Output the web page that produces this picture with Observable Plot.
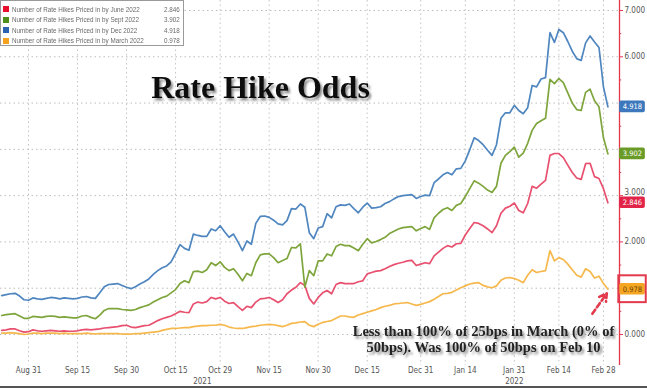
<!DOCTYPE html>
<html>
<head>
<meta charset="utf-8">
<script src="https://cdn.jsdelivr.net/npm/d3@7"></script>
<script src="https://cdn.jsdelivr.net/npm/@observablehq/plot@0.6"></script>
<style>
  html, body { margin: 0; padding: 0; background: #fff; }
  #wrap { position: relative; width: 647px; height: 388px; overflow: hidden; }
  #legend { position: absolute; left: 0; top: 0; width: 184px; height: 46px; background: #fff;
    border: 1px solid #9a9a9a; box-sizing: border-box;
    font-family: "Liberation Sans", Arial, sans-serif;
    font-size: 7.5px; color: #6a6a6a; }
  #legend .row { position: absolute; left: 2px; right: 3px; height: 9px; line-height: 9px; white-space: nowrap; }
  #legend .sw { display: inline-block; width: 6px; height: 6px; margin-right: 3px; vertical-align: -0.5px; }
  #legend .nm { display: inline-block; transform: scaleX(0.84); transform-origin: 0 50%; }
  #legend .val { position: absolute; right: 0; top: 0; transform: scaleX(0.84); transform-origin: 100% 50%; }
  #bottomline { position: absolute; left: 0; bottom: 0; width: 647px; height: 2px; background: #555; }
</style>
</head>
<body>
<div id="wrap"><div id="legend"></div><div id="bottomline"></div></div>
<script>
// ---------- data (weekday series, Aug 23 2021 – Mar 1 2022) ----------
const dates = [
  "2021-08-23","2021-08-24","2021-08-25","2021-08-26","2021-08-27","2021-08-30","2021-08-31","2021-09-01","2021-09-02","2021-09-03",
  "2021-09-06","2021-09-07","2021-09-08","2021-09-09","2021-09-10","2021-09-13","2021-09-14","2021-09-15","2021-09-16","2021-09-17",
  "2021-09-20","2021-09-21","2021-09-22","2021-09-23","2021-09-24","2021-09-27","2021-09-28","2021-09-29","2021-09-30","2021-10-01",
  "2021-10-04","2021-10-05","2021-10-06","2021-10-07","2021-10-08","2021-10-11","2021-10-12","2021-10-13","2021-10-14","2021-10-15",
  "2021-10-18","2021-10-19","2021-10-20","2021-10-21","2021-10-22","2021-10-25","2021-10-26","2021-10-27","2021-10-28","2021-10-29",
  "2021-11-01","2021-11-02","2021-11-03","2021-11-04","2021-11-05","2021-11-08","2021-11-09","2021-11-10","2021-11-11","2021-11-12",
  "2021-11-15","2021-11-16","2021-11-17","2021-11-18","2021-11-19","2021-11-22","2021-11-23","2021-11-24","2021-11-25","2021-11-26",
  "2021-11-29","2021-11-30","2021-12-01","2021-12-02","2021-12-03","2021-12-06","2021-12-07","2021-12-08","2021-12-09","2021-12-10",
  "2021-12-13","2021-12-14","2021-12-15","2021-12-16","2021-12-17","2021-12-20","2021-12-21","2021-12-22","2021-12-23","2021-12-24",
  "2021-12-27","2021-12-28","2021-12-29","2021-12-30","2021-12-31","2022-01-03","2022-01-04","2022-01-05","2022-01-06","2022-01-07",
  "2022-01-10","2022-01-11","2022-01-12","2022-01-13","2022-01-14","2022-01-17","2022-01-18","2022-01-19","2022-01-20","2022-01-21",
  "2022-01-24","2022-01-25","2022-01-26","2022-01-27","2022-01-28","2022-01-31","2022-02-01","2022-02-02","2022-02-03","2022-02-04",
  "2022-02-07","2022-02-08","2022-02-09","2022-02-10","2022-02-11","2022-02-14","2022-02-15","2022-02-16","2022-02-17","2022-02-18",
  "2022-02-21","2022-02-22","2022-02-23","2022-02-24","2022-02-25","2022-02-28","2022-03-01"
];
const dec2022 = [
  0.84,0.86,0.88,0.89,0.83,0.75,0.74,0.79,0.77,0.76,
  0.78,0.80,0.79,0.77,0.79,0.78,0.77,0.78,0.81,0.82,
  0.79,0.78,0.90,1.03,1.08,1.09,1.10,1.06,1.02,0.99,
  1.03,1.09,1.14,1.20,1.30,1.38,1.44,1.48,1.57,1.75,
  1.94,1.86,1.82,2.17,2.14,2.12,2.12,2.28,2.24,2.35,
  2.22,2.10,2.17,2.00,1.81,2.02,1.95,2.40,2.55,2.56,
  2.53,2.47,2.39,2.37,2.46,2.72,2.71,2.82,2.75,2.20,
  2.07,2.30,2.33,2.61,2.52,2.76,2.80,2.79,2.82,2.72,
  2.63,2.75,2.84,2.73,2.74,2.76,2.83,2.87,2.93,2.98,
  3.00,3.01,3.02,2.94,2.98,3.01,3.00,3.28,3.36,3.45,
  3.50,3.45,3.58,3.59,3.75,3.99,4.25,4.19,4.10,3.98,
  3.87,4.10,4.67,4.79,4.79,4.95,4.84,4.77,4.90,5.38,
  5.35,5.52,5.55,6.52,6.31,6.59,6.52,6.33,6.12,5.96,
  5.92,6.30,6.45,6.32,6.20,5.35,4.918
];
const sept2022 = [
  0.41,0.43,0.44,0.45,0.40,0.35,0.35,0.39,0.38,0.37,
  0.39,0.40,0.39,0.37,0.38,0.37,0.36,0.36,0.40,0.41,
  0.37,0.34,0.42,0.52,0.56,0.56,0.56,0.54,0.53,0.52,
  0.54,0.58,0.61,0.64,0.70,0.75,0.80,0.83,0.90,0.97,
  1.10,1.16,1.12,1.36,1.37,1.34,1.40,1.55,1.49,1.57,
  1.45,1.38,1.42,1.30,1.16,1.32,1.27,1.55,1.72,1.74,
  1.74,1.66,1.55,1.60,1.64,1.88,1.87,1.96,1.02,1.38,
  1.27,1.59,1.59,1.74,1.70,1.90,1.95,1.92,1.92,1.87,
  1.81,1.95,2.07,1.98,2.01,2.05,2.10,2.18,2.23,2.28,
  2.31,2.32,2.33,2.24,2.29,2.33,2.27,2.52,2.62,2.70,
  2.74,2.68,2.79,2.83,2.98,3.15,3.32,3.27,3.20,3.12,
  3.07,3.20,3.70,3.87,3.95,4.05,3.83,3.92,4.13,4.41,
  4.56,4.62,4.67,5.51,5.42,5.53,5.44,5.22,5.00,4.86,
  4.84,5.23,5.30,5.05,4.92,4.25,3.902
];
const june2022 = [
  0.09,0.10,0.12,0.12,0.08,0.05,0.06,0.10,0.08,0.07,
  0.08,0.09,0.08,0.07,0.08,0.07,0.07,0.08,0.10,0.11,
  0.10,0.11,0.12,0.14,0.15,0.16,0.17,0.19,0.20,0.16,
  0.15,0.17,0.19,0.20,0.25,0.30,0.34,0.37,0.40,0.45,
  0.50,0.48,0.47,0.66,0.70,0.68,0.71,0.80,0.77,0.80,
  0.72,0.67,0.69,0.60,0.52,0.61,0.58,0.70,0.77,0.78,
  0.80,0.75,0.69,0.75,0.88,0.96,1.02,1.12,1.06,0.78,
  0.66,0.80,0.90,0.95,0.88,1.08,1.12,1.10,1.10,1.10,
  1.14,1.16,1.31,1.34,1.37,1.38,1.42,1.47,1.51,1.54,
  1.56,1.59,1.60,1.49,1.52,1.55,1.53,1.70,1.78,1.86,
  1.92,1.89,1.96,1.97,2.15,2.29,2.42,2.40,2.35,2.28,
  2.20,2.35,2.62,2.73,2.77,2.84,2.68,2.63,2.83,3.20,
  3.16,3.25,3.33,3.87,3.91,3.91,3.82,3.66,3.50,3.38,
  3.35,3.69,3.70,3.41,3.37,3.15,2.846
];
const march2022 = [
  0.03,0.03,0.04,0.03,0.02,0.00,0.01,0.03,0.03,0.02,
  0.03,0.03,0.03,0.02,0.03,0.02,0.02,0.02,0.02,0.03,
  0.02,0.01,0.02,0.02,0.02,0.02,0.02,0.01,0.01,0.01,
  0.02,0.02,0.03,0.04,0.05,0.06,0.09,0.11,0.13,0.13,
  0.14,0.15,0.15,0.17,0.18,0.19,0.19,0.20,0.20,0.22,
  0.20,0.16,0.14,0.13,0.13,0.15,0.17,0.18,0.20,0.21,
  0.22,0.21,0.19,0.17,0.20,0.24,0.25,0.27,0.28,0.20,
  0.17,0.22,0.26,0.28,0.30,0.35,0.40,0.40,0.38,0.37,
  0.42,0.45,0.48,0.51,0.54,0.58,0.61,0.63,0.66,0.67,
  0.68,0.69,0.66,0.63,0.65,0.68,0.71,0.76,0.82,0.88,
  0.89,0.91,0.96,1.01,1.05,1.09,1.11,1.12,1.06,1.03,
  1.01,1.05,1.17,1.22,1.23,1.21,1.17,1.12,1.28,1.40,
  1.34,1.36,1.38,1.81,1.59,1.66,1.62,1.52,1.40,1.28,
  1.24,1.42,1.36,1.22,1.26,1.10,0.978
];
const legendNames = [
  "Number of Rate Hikes Priced in by June 2022",
  "Number of Rate Hikes Priced in by Sept 2022",
  "Number of Rate Hikes Priced in by Dec 2022",
  "Number of Rate Hikes Priced in by March 2022"
];
const tickDates = ["2021-08-31","2021-09-15","2021-09-30","2021-10-15","2021-10-29","2021-11-15","2021-11-30",
                   "2021-12-15","2021-12-31","2022-01-14","2022-01-31","2022-02-14","2022-02-28"];
const tickLabels = ["Aug 31","Sep 15","Sep 30","Oct 15","Oct 29","Nov 15","Nov 30",
                    "Dec 15","Dec 31","Jan 14","Jan 31","Feb 14","Feb 28"];
const yearLabels = ["2021","2022"];
const yearDates = ["2021-10-25","2022-01-31"];
const yTicks = [0,1,2,3,4,5,6,7];
const yMinorTicks = [0.5,1.5,2.5,3.5,4.5,5.5,6.5];
const titleText = "Rate Hike Odds";
const noteText = "Less than 100% of 25bps in March (0% of\n50bps). Was 100% of 50bps on Feb 10";

// ---------- styling ----------
const series = [
  {name: legendNames[0], values: june2022,  line: "#e8506f", sw: "#e8112d", box: "#e22448", txt: "#ffffff"},
  {name: legendNames[1], values: sept2022,  line: "#7ea53c", sw: "#4e8e1c", box: "#6a9b26", txt: "#ffffff"},
  {name: legendNames[2], values: dec2022,   line: "#4f86bf", sw: "#2b63b0", box: "#3d78bd", txt: "#ffffff"},
  {name: legendNames[3], values: march2022, line: "#f6b84c", sw: "#f5a21f", box: "#f5a623", txt: "#6b4300"}
];
const idx = d => dates.indexOf(d);
const xMin = -0.28, xMax = 138.6, xBoxEnd = xMax + 5.8;
const yMin = -0.67, yMax = 7.216;
const RED = "#e23a4c";
const serif = "'Liberation Serif','Times New Roman',serif";
const narrow = "'Liberation Sans Narrow','DejaVu Sans Condensed','Arial Narrow',sans-serif";

const last = series.map(s => ({k: s.values.length - 1, v: s.values[s.values.length - 1], box: s.box, txt: s.txt}));
const lastMarch = [last[3]];
// axis labels hidden behind a last-value box are not drawn (the box covers them in the reference);
// a label just above a box sits a little higher, as in the reference
const visibleYLabels = yTicks.filter(t => !last.some(l => Math.abs(l.v - t) < 0.12));
const labelDy = t => last.some(l => t - l.v > 0 && t - l.v < 0.25) ? -3 : 0;

const marks = [
  Plot.ruleY(yTicks, {stroke: "#bcbcbc", strokeDasharray: "1.5,3", strokeWidth: 1}),
  Plot.ruleX(tickDates.map(idx), {stroke: "#c4c4c4", strokeDasharray: "1.5,3", strokeWidth: 1}),
];
for (const s of [series[3], series[0], series[1], series[2]]) {
  marks.push(Plot.line(s.values, {x: (d, k) => k, y: d => d, stroke: s.line, strokeWidth: 1.7, strokeLinejoin: "round"}));
}
marks.push(
  // right axis
  Plot.ruleX([xMax], {stroke: RED, strokeWidth: 1.3}),
  Plot.ruleY(yTicks, {x1: xMax, x2: xMax + 0.9, stroke: RED, strokeWidth: 1}),
  Plot.ruleY(yMinorTicks, {x1: xMax, x2: xMax + 0.5, stroke: RED, strokeWidth: 1}),
  Plot.text(visibleYLabels.filter(t => labelDy(t) === 0), {x: xMax, y: d => d, dx: 5, textAnchor: "start",
    text: d => d3.format(".3f")(d), fill: "#555", fontSize: 8, fontFamily: narrow}),
  Plot.text(visibleYLabels.filter(t => labelDy(t) !== 0), {x: xMax, y: d => d, dx: 5, dy: -3.5, textAnchor: "start",
    text: d => d3.format(".3f")(d), fill: "#555", fontSize: 8, fontFamily: narrow}),
  // last value boxes
  Plot.rect(last, {x1: xMax, x2: xBoxEnd, y1: d => d.v - 0.125, y2: d => d.v + 0.125, fill: d => d.box, rx: 2}),
  Plot.text(last, {x: (xMax + xBoxEnd) / 2, y: "v", text: d => d.v.toFixed(3), fill: d => d.txt, fontSize: 7.5, fontFamily: narrow}),
  Plot.rect(lastMarch, {x1: xMax - 0.15, x2: xBoxEnd + 0.2, y1: d => d.v - 0.29, y2: d => d.v + 0.29, fill: "none", stroke: RED, strokeWidth: 2}),
  // arrow to March series end
  Plot.arrow(lastMarch, {x1: d => d.k - 3.5, y1: d => d.v - 0.53, x2: d => d.k - 0.25, y2: d => d.v - 0.09,
    stroke: RED, strokeWidth: 2.6, strokeDasharray: "5,3", headLength: 9}),
  // x axis labels
  Plot.text(tickDates, {x: idx, frameAnchor: "bottom", dy: 7, text: (d, i) => tickLabels[i], fill: "#555", fontSize: 8, fontFamily: narrow}),
  Plot.text(yearDates, {x: idx, frameAnchor: "bottom", dy: 18, text: (d, i) => yearLabels[i], fill: "#555", fontSize: 8, fontFamily: narrow}),
  // title
  Plot.text([titleText], {frameAnchor: "top-left", textAnchor: "middle", lineAnchor: "middle", dx: 260, dy: 87, text: d => d,
    fill: "#111", fontSize: 32, fontWeight: "bold", fontFamily: serif}),
  // annotation
  Plot.text([noteText], {frameAnchor: "top-left", textAnchor: "middle", lineAnchor: "middle", dx: 483, dy: 338, text: d => d,
    fill: "#222", fontSize: 14.5, fontWeight: "bold", fontFamily: serif, lineHeight: 1.12})
);

const chart = Plot.plot({
  width: 647, height: 388,
  marginLeft: 0, marginRight: 28, marginTop: 0, marginBottom: 23,
  x: {domain: [xMin, xMax], axis: null},
  y: {domain: [yMin, yMax], axis: null},
  color: {type: "identity"},
  style: {background: "#fff", overflow: "visible"},
  marks
});

// drop shadow for the title and annotation (as in the reference)
const svg = d3.select(chart);
const f = svg.insert("defs", ":first-child").append("filter").attr("id", "tshadow")
  .attr("x", "-10%").attr("y", "-20%").attr("width", "130%").attr("height", "160%");
f.append("feDropShadow").attr("dx", 2).attr("dy", 2.5).attr("stdDeviation", 1.2)
  .attr("flood-color", "#666").attr("flood-opacity", 0.75);
svg.selectAll("text").filter(function () {
  const t = this.textContent;
  return t.startsWith(titleText) || t.startsWith("Less than");
}).attr("filter", "url(#tshadow)");

const wrap = document.getElementById("wrap");
wrap.insertBefore(chart, wrap.firstChild);

// legend (overlaid on the plot area, top-left)
const legend = document.getElementById("legend");
const rowTops = [3.5, 14, 24.5, 35];
series.forEach((s, i) => {
  const row = document.createElement("div");
  row.className = "row";
  row.style.top = rowTops[i] + "px";
  row.innerHTML = `<span class="sw" style="background:${s.sw}"></span><span class="nm">${s.name}</span><span class="val">${s.values[s.values.length-1].toFixed(3)}</span>`;
  legend.appendChild(row);
});
</script>
</body>
</html>
